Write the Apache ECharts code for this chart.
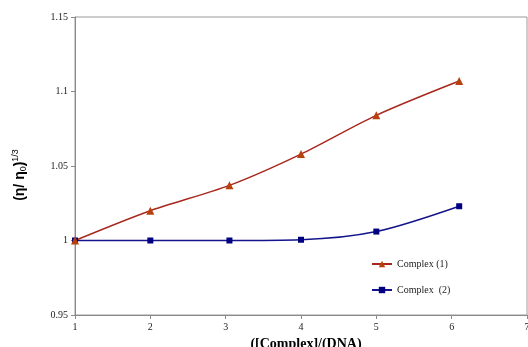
<!DOCTYPE html>
<html>
<head>
<meta charset="utf-8">
<script src="https://cdn.jsdelivr.net/npm/echarts@6/dist/echarts.min.js"></script>
<style>
  html, body { margin: 0; padding: 0; background: #fff; }
  #chart { width: 528px; height: 347px; }
</style>
</head>
<body>
<div id="chart"></div>
<script>
// Ratio [Complex]/[DNA] at each measurement
const ratio1 = [1, 2, 3.05, 4, 5, 6.1];
const ratio2 = [1, 2, 3.05, 4, 5, 6.1];
// Relative viscosity (η/η0)^(1/3)
const visc1 = [1.000, 1.020, 1.037, 1.058, 1.084, 1.107];
const visc2 = [1.000, 1.000, 1.000, 1.0005, 1.006, 1.023];
const seriesNames = ['Complex (1)', 'Complex  (2)'];
const yTicks = ['0.95', '1', '1.05', '1.1', '1.15'];

const pairs = (xs, ys) => xs.map((x, i) => [x, ys[i]]);
const serif = 'Liberation Serif';
const sans = 'Arial, "Liberation Sans", sans-serif';

const chart = echarts.init(document.getElementById('chart'));
chart.setOption({
  animation: false,
  grid: {
    left: 75, right: 1, top: 17, bottom: 32,
    containLabel: false,
    outerBoundsMode: 'none',
    show: true, borderColor: '#9a9a9a', borderWidth: 1
  },
  legend: {
    orient: 'vertical',
    left: 366, top: 254,
    itemGap: 16,
    itemWidth: 20, itemHeight: 8,
    textStyle: { fontFamily: serif, fontSize: 10, color: '#222' },
    data: seriesNames
  },
  xAxis: {
    type: 'value',
    min: 1, max: 7, interval: 1,
    name: '([Complex]/(DNA)',
    nameLocation: 'middle',
    nameGap: 21,
    nameTextStyle: { fontFamily: serif, fontSize: 14, fontWeight: 'bold', color: '#000', padding: [0, 0, 0, 10] },
    axisLine: { lineStyle: { color: '#8a8a8a' } },
    axisTick: { length: 4, lineStyle: { color: '#8a8a8a' } },
    axisLabel: { fontFamily: serif, fontSize: 10, color: '#222', margin: 7 },
    splitLine: { show: false }
  },
  yAxis: {
    type: 'value',
    min: 0.95, max: 1.15, interval: 0.05,
    name: '{a|(η/ η}{sub|0}{a|)}{sup|1/3}',
    nameLocation: 'middle',
    nameGap: 44,
    nameTextStyle: {
      padding: [0, 18, 0, 0],
      rich: {
        a: { fontFamily: sans, fontSize: 14, fontWeight: 'bold', color: '#000', lineHeight: 22, verticalAlign: 'middle' },
        sub: { fontFamily: sans, fontSize: 9, color: '#000', lineHeight: 22, verticalAlign: 'bottom', padding: [0, 0, 3, 0] },
        sup: { fontFamily: sans, fontSize: 9, color: '#000', lineHeight: 22, verticalAlign: 'top', padding: [2, 0, 0, 0] }
      }
    },
    axisLine: { show: true, lineStyle: { color: '#8a8a8a' } },
    axisTick: { show: true, length: 4, lineStyle: { color: '#8a8a8a' } },
    axisLabel: {
      fontFamily: serif, fontSize: 10, color: '#222', margin: 7,
      formatter: v => yTicks.find(t => Math.abs(parseFloat(t) - v) < 1e-6) || String(v)
    },
    splitLine: { show: false }
  },
  series: [
    {
      name: seriesNames[1],
      type: 'line',
      smooth: 0.3,
      data: pairs(ratio2, visc2),
      symbol: 'rect',
      symbolSize: 6,
      lineStyle: { color: '#14148c', width: 1.5 },
      itemStyle: { color: '#000080' }
    },
    {
      name: seriesNames[0],
      type: 'line',
      smooth: 0.3,
      data: pairs(ratio1, visc1),
      symbol: 'triangle',
      symbolSize: 8,
      lineStyle: { color: '#a8281e', width: 1.5 },
      itemStyle: { color: '#b8400c' }
    }
  ]
});
</script>
</body>
</html>
